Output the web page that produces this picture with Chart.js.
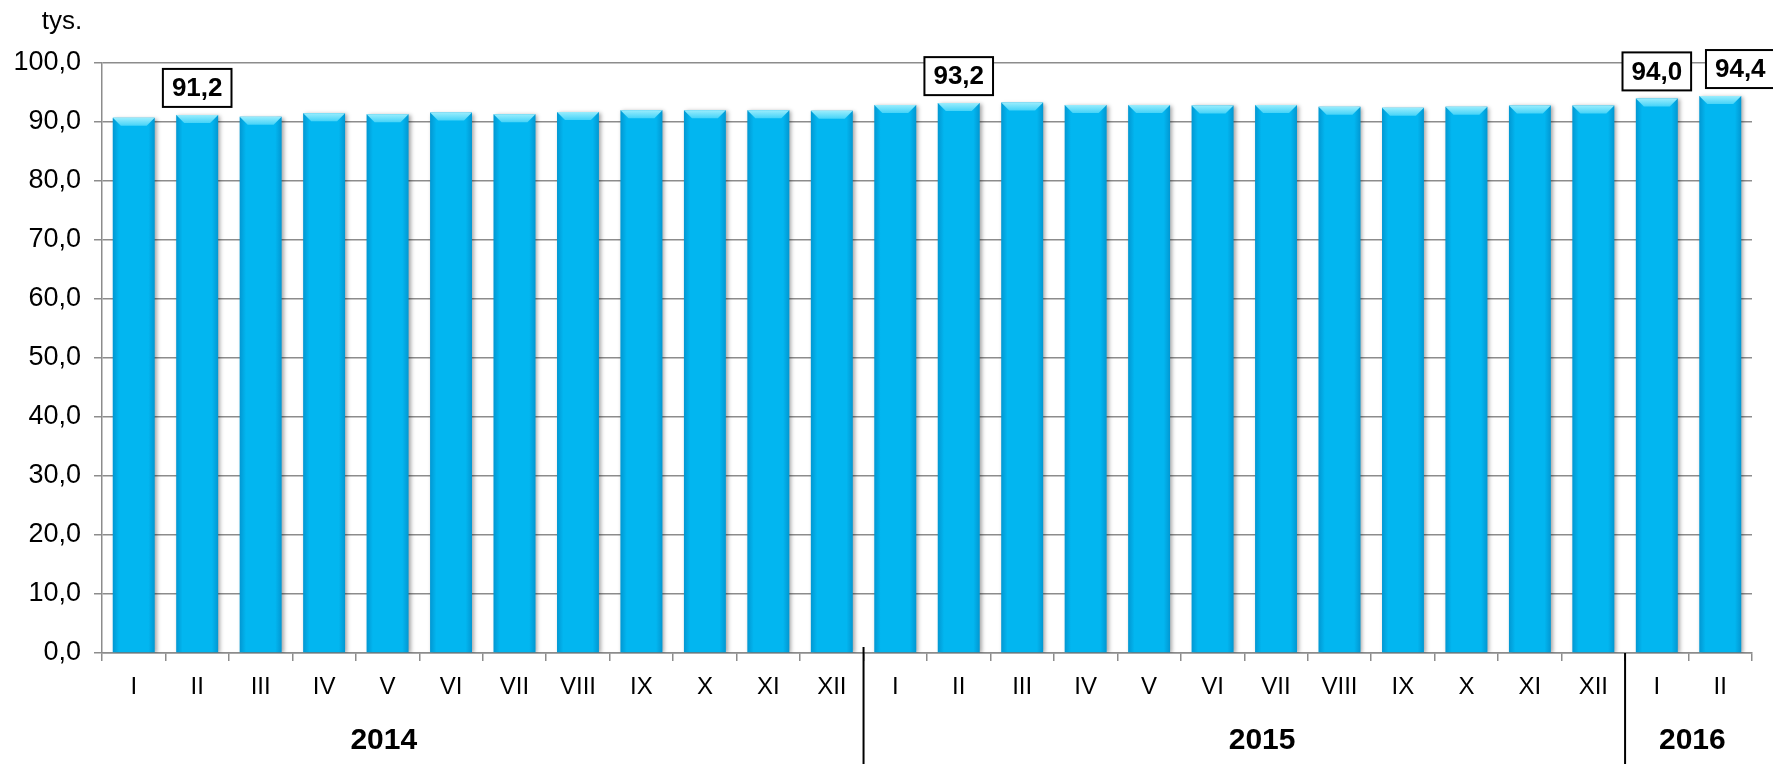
<!DOCTYPE html>
<html>
<head>
<meta charset="utf-8">
<script src="https://cdn.jsdelivr.net/npm/chart.js@4.4.1/dist/chart.umd.min.js"></script>
<style>
  body { margin: 0; background: #fff; }
  #wrap { width: 1773px; height: 764px; }
</style>
</head>
<body>
<div id="wrap"><canvas id="employmentChart" width="1773" height="764"></canvas></div>
<script>
const months = ['I', 'II', 'III', 'IV', 'V', 'VI', 'VII', 'VIII', 'IX', 'X', 'XI', 'XII',
                'I', 'II', 'III', 'IV', 'V', 'VI', 'VII', 'VIII', 'IX', 'X', 'XI', 'XII',
                'I', 'II'];
const values2014 = [90.7, 91.2, 90.9, 91.5, 91.3, 91.6, 91.3, 91.7, 92.0, 92.0, 92.0, 91.9];
const values2015 = [92.9, 93.2, 93.3, 92.9, 92.9, 92.8, 92.9, 92.6, 92.4, 92.6, 92.8, 92.8];
const values2016 = [94.0, 94.4];
const years = ['2014', '2015', '2016'];
const yearSizes = [12, 12, 2];
const labeledBars = [1, 13, 24, 25];
const yMin = 0;
const yMax = 100;
const yStep = 10;

const values = values2014.concat(values2015, values2016);
const FONT = "'Liberation Sans', Arial, sans-serif";
const fmt = v => v.toFixed(1).replace('.', ',');

// cien i "3D" na slupkach
const barLook = {
  id: 'barLook',
  beforeDatasetsDraw(chart) {
    const ctx = chart.ctx;
    ctx.save();
    ctx.shadowColor = 'rgba(0,0,0,0.35)';
    ctx.shadowBlur = 4;
    ctx.shadowOffsetX = 2;
    ctx.shadowOffsetY = 1;
  },
  afterDatasetsDraw(chart) {
    const ctx = chart.ctx;
    ctx.restore();
    chart.getDatasetMeta(0).data.forEach(bar => {
      const p = bar.getProps(['x', 'y', 'base', 'width'], true);
      const l = p.x - p.width / 2, r = p.x + p.width / 2;
      const g = ctx.createLinearGradient(l, 0, r, 0);
      g.addColorStop(0, 'rgba(0,80,140,0.3)');
      g.addColorStop(0.15, 'rgba(0,80,140,0)');
      g.addColorStop(0.85, 'rgba(0,80,140,0)');
      g.addColorStop(1, 'rgba(0,80,140,0.3)');
      ctx.fillStyle = g;
      ctx.fillRect(l, p.y, p.width, p.base - p.y);
      const b = 8;
      ctx.beginPath();
      ctx.moveTo(l, p.y);
      ctx.lineTo(r, p.y);
      ctx.lineTo(r - b, p.y + b);
      ctx.lineTo(l + b, p.y + b);
      ctx.closePath();
      const tg = ctx.createLinearGradient(0, p.y, 0, p.y + b);
      tg.addColorStop(0, '#9aedfd');
      tg.addColorStop(1, '#45d3f8');
      ctx.fillStyle = tg;
      ctx.fill();
    });
  }
};

// etykiety wartosci w ramkach
const boxLabels = {
  id: 'boxLabels',
  afterDatasetsDraw(chart, args, opts) {
    const ctx = chart.ctx;
    const meta = chart.getDatasetMeta(0);
    ctx.save();
    ctx.font = 'bold 26px ' + FONT;
    ctx.textAlign = 'center';
    ctx.textBaseline = 'middle';
    labeledBars.forEach((i, k) => {
      const bar = meta.data[i];
      const text = fmt(values[i]);
      const w = ctx.measureText(text).width + 18;
      const h = 38;
      const cx = bar.x + (opts.shift[k] || 0);
      const bottom = bar.y - 8;
      ctx.fillStyle = '#fff';
      ctx.fillRect(cx - w / 2, bottom - h, w, h);
      ctx.lineWidth = 2;
      ctx.strokeStyle = '#000';
      ctx.strokeRect(cx - w / 2, bottom - h, w, h);
      ctx.fillStyle = '#000';
      ctx.fillText(text, cx, bottom - h / 2 + 1);
    });
    ctx.restore();
  }
};

// lata pod osia + linie oddzielajace
const yearAxis = {
  id: 'yearAxis',
  afterDraw(chart, args, opts) {
    const ctx = chart.ctx;
    const x = chart.scales.x;
    const area = chart.chartArea;
    ctx.save();
    ctx.strokeStyle = '#000';
    ctx.lineWidth = 2;
    let start = 0;
    yearSizes.forEach((n, k) => {
      start += n;
      if (start >= months.length) return;
      const px = (x.getPixelForValue(start - 1) + x.getPixelForValue(start)) / 2;
      ctx.beginPath();
      ctx.moveTo(px, area.bottom - (opts.lineRise[k] || 0));
      ctx.lineTo(px, chart.height);
      ctx.stroke();
    });
    ctx.font = 'bold 30px ' + FONT;
    ctx.fillStyle = '#000';
    ctx.textAlign = 'center';
    ctx.textBaseline = 'middle';
    years.forEach((y, k) => {
      ctx.fillText(y, x.getPixelForValue(opts.at[k]), opts.y);
    });
    ctx.font = '26px ' + FONT;
    ctx.fillText('tys.', 62, 22);
    ctx.restore();
  }
};

document.addEventListener('DOMContentLoaded', function() {
  const ctx = document.getElementById('employmentChart').getContext('2d');
  new Chart(ctx, {
    type: 'bar',
    data: {
      labels: months,
      datasets: [{
        data: values,
        backgroundColor: '#02b6f0',
        borderWidth: 0,
        barPercentage: 0.66,
        categoryPercentage: 1
      }]
    },
    options: {
      responsive: false,
      animation: false,
      layout: { padding: { top: 63, right: 21, left: 0, bottom: 0 } },
      plugins: {
        legend: { display: false },
        tooltip: { enabled: false },
        boxLabels: { shift: [0, 0, 0, 20] },
        yearAxis: { at: [3.94, 17.78, 24.56], y: 741, lineRise: [6, 0] }
      },
      scales: {
        x: {
          afterFit(scale) { scale.height = 111; scale.paddingLeft = 0; scale.paddingRight = 0; },
          grid: { display: true, drawOnChartArea: false, drawTicks: true, tickLength: 8, offset: true, color: '#8c8c8c', lineWidth: 1.5 },
          border: { color: '#8c8c8c', width: 1.5 },
          ticks: {
            autoSkip: false, maxRotation: 0, padding: 12, color: '#000',
            font: { family: FONT, size: 24 }
          }
        },
        y: {
          min: yMin,
          max: yMax,
          afterFit(scale) { scale.width = 102; scale.paddingTop = 0; scale.paddingBottom = 0; },
          grid: { color: '#8c8c8c', lineWidth: 1.5, tickLength: 8 },
          border: { color: '#8c8c8c', width: 1.5 },
          ticks: {
            stepSize: yStep, padding: 13, color: '#000',
            font: { family: FONT, size: 27 },
            callback: v => fmt(v)
          }
        }
      }
    },
    plugins: [barLook, boxLabels, yearAxis]
  });
});
</script>
</body>
</html>
